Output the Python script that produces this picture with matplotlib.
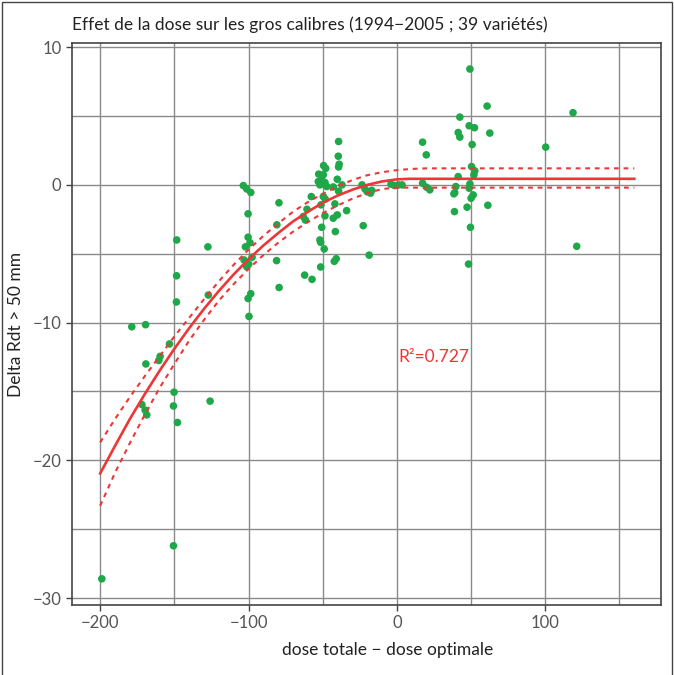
import matplotlib
matplotlib.use('Agg')
import matplotlib.pyplot as plt
from matplotlib.patches import Rectangle

plt.rcParams['font.family'] = ['Lato', 'DejaVu Sans']

# scatter: dose totale - dose optimale vs delta rendement > 50 mm
dose_x = [
    -148.4, -127.4, -148.5, -148.6, -127.1, -178.7, -169.4, -153.3, -159.6, -160.5,
    -169.2, -150.2, -171.9, -169.7, -168.6, -150.6, -147.9, -125.9, -150.6, -198.9,
    -103.5, -101.2, -98.5, -100.3, -100.3, -99.0, -102.1, -103.0, -99.9, -97.6,
    -101.2, -98.5, -100.3, -99.7, -79.5, -80.9, -81.1, -79.4,
    -39.3, -39.5, -38.9, -39.3, -49.4, -48.0, -52.7, -49.6, -50.7, -53.0,
    -48.5, -49.6, -51.9, -47.3, -40.2, -37.0, -42.9, -39.3, -57.7, -49.6,
    -48.3, -51.2, -41.8, -33.9, -60.6, -63.1, -61.7, -40.2, -42.9, -48.5,
    -50.7, -41.5, -51.9, -51.4, -49.0, -40.9, -42.2, -51.4, -62.2, -57.2,
    -23.5, -21.5, -20.0, -17.8, -17.0, -22.7, -18.7,
    -4.0, -1.5, 1.0, 3.5, 17.3, 19.8, 17.3, 20.0, 22.2,
    49.2, 60.8, 42.4, 48.7, 52.3, 41.3, 42.4, 62.6, 50.7, 50.3,
    52.5, 51.9, 41.3, 49.2, 48.7, 39.7, 39.0, 38.4, 51.4, 50.0,
    47.3, 61.3, 38.8, 49.6, 48.3,
    100.3, 118.7, 121.2,
]
delta_y = [
    -4.0, -4.5, -6.6, -8.5, -8.0, -10.3, -10.15, -11.55, -12.45, -12.75,
    -13.0, -15.05, -15.95, -16.35, -16.7, -16.05, -17.25, -15.7, -26.2, -28.6,
    -0.05, -0.3, -0.55, -2.1, -3.8, -4.2, -4.5, -5.45, -5.75, -5.25,
    -5.95, -7.9, -8.25, -9.55, -1.3, -2.9, -5.5, -7.45,
    3.15, 2.08, 1.5, 1.3, 1.4, 1.2, 0.78, 0.73, 0.36, 0.24,
    0.17, 0.07, 0.0, -0.12, 0.41, 0.0, -0.15, -0.46, -0.85, -0.85,
    -1.04, -1.45, -1.38, -1.87, -1.77, -2.3, -2.55, -2.18, -2.42, -2.25,
    -3.08, -3.39, -4.0, -4.17, -4.65, -5.36, -5.55, -5.96, -6.55, -6.86,
    0.0, -0.3, -0.5, -0.6, -0.4, -2.96, -5.1,
    0.05, -0.05, 0.0, 0.0, 3.1, 2.18, 0.12, -0.17, -0.36,
    8.41, 5.72, 4.92, 4.29, 4.15, 3.8, 3.47, 3.76, 2.93, 1.33,
    1.02, 0.73, 0.6, 0.07, -0.24, -0.12, -0.56, -0.65, -0.73, -0.97,
    -1.62, -1.48, -1.94, -3.08, -5.75,
    2.74, 5.24, -4.46,
]

# fitted curve (quadratic-plateau) and its confidence band
fit_x = [-200, -190, -180, -170, -160, -150, -140, -130, -120, -110, -100, -90,
         -80, -70, -60, -50, -40, -30, -20, -10, 0, 8, 160]
fit_y = [-20.95, -18.95, -17.0, -15.2, -13.5, -11.9, -10.4, -9.0, -7.7, -6.5, -5.4, -4.4,
         -3.5, -2.65, -1.95, -1.3, -0.78, -0.35, 0.0, 0.25, 0.4, 0.44, 0.44]
upper_x = [-200, -190, -180, -170, -160, -150, -140, -130, -120, -110, -100, -90,
           -80, -70, -60, -50, -40, -30, -20, -10, 0, 10, 20, 160]
upper_y = [-18.7, -17.0, -15.4, -13.9, -12.45, -11.0, -9.65, -8.3, -7.0, -5.8, -4.7, -3.7,
           -2.8, -1.95, -1.25, -0.65, -0.1, 0.35, 0.7, 0.92, 1.07, 1.16, 1.2, 1.2]
lower_x = [-200, -190, -180, -170, -160, -150, -140, -130, -120, -110, -100, -90,
           -80, -70, -60, -50, -40, -30, -20, -10, 0, 160]
lower_y = [-23.3, -20.9, -18.75, -16.7, -14.75, -13.0, -11.3, -9.8, -8.4, -7.2, -6.1, -5.1,
           -4.2, -3.4, -2.7, -2.05, -1.5, -1.0, -0.6, -0.3, -0.2, -0.2]

r2_label = 'R²=0.727'

red = '#ee3636'
green = '#1fa849'

fig = plt.figure(figsize=(6.74, 6.75), dpi=100)
ax = fig.add_axes([0.1068, 0.1037, 0.8739, 0.8326])

ax.scatter(dose_x, delta_y, s=30, color=green, edgecolors='none', zorder=3)
ax.plot(fit_x, fit_y, color=red, lw=1.9, zorder=4)
ax.plot(upper_x, upper_y, color=red, lw=1.5, ls=(0, (2.3, 2.3)), zorder=4)
ax.plot(lower_x, lower_y, color=red, lw=1.5, ls=(0, (2.3, 2.3)), zorder=4)

ax.text(1.3, -12.5, r2_label, color=red, fontsize=12.5, va='center', ha='left')

ax.set_xlim(-219, 178)
ax.set_ylim(-30.5, 10.3)
ax.set_xticks([-200, -100, 0, 100])
ax.set_xticklabels(['\u2212200', '\u2212100', '0', '100'])
ax.set_yticks([10, 0, -10, -20, -30])
ax.set_yticklabels(['10', '0', '\u221210', '\u221220', '\u221230'])
ax.set_xticks(range(-200, 151, 50), minor=True)
ax.set_yticks(range(-30, 11, 5), minor=True)
ax.tick_params(which='major', length=4, width=1, color='#444444',
               labelcolor='#555555', labelsize=12)
ax.tick_params(which='minor', length=0)
ax.grid(True, which='both', color='#8a8a8a', lw=1)
ax.set_axisbelow(True)
for sp in ax.spines.values():
    sp.set_color('#444444')
    sp.set_linewidth(1.2)

ax.set_xlabel('dose totale \u2212 dose optimale', fontsize=12.5, color='#222222', labelpad=8)
ax.xaxis.set_label_coords(0.536, -0.065)
ax.set_ylabel('Delta Rdt > 50 mm', fontsize=12.5, color='#222222', labelpad=6)
fig.text(0.1068, 0.963, 'Effet de la dose sur les gros calibres (1994\u22122005 ; 39 variétés)',
         fontsize=12.5, color='#222222', ha='left', va='center')

fig.patches.append(Rectangle((0.003, -0.01), 0.994, 1.007, transform=fig.transFigure,
                             fill=False, edgecolor='#444444', lw=1))

fig.savefig('out.png', dpi=100)
